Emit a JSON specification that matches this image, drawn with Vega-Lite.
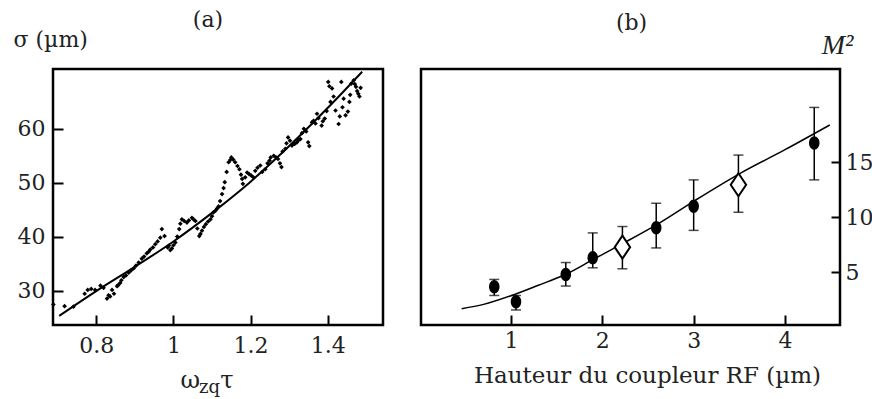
{
  "$schema": "https://vega.github.io/schema/vega-lite/v6.json",
  "padding": {"left": 11, "top": 7, "right": 0, "bottom": 0},
  "spacing": 34,
  "datasets": {
    "scatter": [
      {"x":0.689,"y":27.4},{"x":0.718,"y":27.1},{"x":0.741,"y":27.0},{"x":0.770,"y":29.4},{"x":0.778,"y":30.1},
      {"x":0.787,"y":30.3},{"x":0.797,"y":30.1},{"x":0.811,"y":30.9},{"x":0.819,"y":30.5},{"x":0.828,"y":28.5},
      {"x":0.832,"y":29.1},{"x":0.836,"y":28.9},{"x":0.841,"y":30.1},{"x":0.846,"y":29.4},{"x":0.854,"y":30.8},
      {"x":0.857,"y":31.0},{"x":0.862,"y":31.4},{"x":0.865,"y":31.9},{"x":0.871,"y":32.5},{"x":0.877,"y":32.8},
      {"x":0.884,"y":33.3},{"x":0.890,"y":33.7},{"x":0.897,"y":34.1},{"x":0.903,"y":34.6},{"x":0.910,"y":35.2},
      {"x":0.918,"y":35.9},{"x":0.924,"y":36.3},{"x":0.931,"y":36.9},{"x":0.936,"y":37.2},{"x":0.940,"y":37.6},
      {"x":0.947,"y":38.0},{"x":0.953,"y":38.6},{"x":0.959,"y":39.1},{"x":0.966,"y":39.8},{"x":0.970,"y":41.4},
      {"x":0.977,"y":40.1},{"x":0.985,"y":38.0},{"x":0.988,"y":38.3},{"x":0.992,"y":37.5},{"x":0.996,"y":37.8},
      {"x":1.000,"y":38.4},{"x":1.005,"y":38.9},{"x":1.010,"y":40.0},{"x":1.015,"y":41.4},{"x":1.018,"y":42.4},
      {"x":1.022,"y":43.2},{"x":1.028,"y":42.9},{"x":1.035,"y":42.6},{"x":1.040,"y":43.0},{"x":1.048,"y":43.5},
      {"x":1.052,"y":43.2},{"x":1.057,"y":42.9},{"x":1.062,"y":41.5},{"x":1.067,"y":40.1},{"x":1.070,"y":40.5},
      {"x":1.074,"y":41.1},{"x":1.079,"y":41.8},{"x":1.084,"y":42.3},{"x":1.090,"y":42.8},{"x":1.096,"y":43.2},
      {"x":1.100,"y":43.8},{"x":1.104,"y":44.5},{"x":1.109,"y":44.8},{"x":1.113,"y":45.2},{"x":1.117,"y":45.6},
      {"x":1.121,"y":46.6},{"x":1.126,"y":47.9},{"x":1.130,"y":49.0},{"x":1.133,"y":50.1},{"x":1.138,"y":52.0},
      {"x":1.143,"y":53.8},{"x":1.147,"y":54.2},{"x":1.150,"y":54.7},{"x":1.155,"y":54.3},{"x":1.160,"y":53.8},
      {"x":1.166,"y":53.1},{"x":1.171,"y":52.5},{"x":1.175,"y":51.5},{"x":1.178,"y":50.7},{"x":1.180,"y":49.8},
      {"x":1.186,"y":51.0},{"x":1.191,"y":51.9},{"x":1.196,"y":51.6},{"x":1.202,"y":51.3},{"x":1.207,"y":51.0},
      {"x":1.212,"y":52.2},{"x":1.218,"y":52.8},{"x":1.225,"y":53.2},{"x":1.230,"y":52.0},{"x":1.238,"y":52.5},
      {"x":1.244,"y":53.6},{"x":1.249,"y":54.1},{"x":1.252,"y":54.7},{"x":1.260,"y":55.0},{"x":1.266,"y":54.7},
      {"x":1.271,"y":54.4},{"x":1.276,"y":53.6},{"x":1.280,"y":52.9},{"x":1.283,"y":55.8},{"x":1.290,"y":56.3},
      {"x":1.293,"y":57.3},{"x":1.297,"y":58.4},{"x":1.302,"y":57.8},{"x":1.307,"y":56.9},{"x":1.314,"y":57.2},
      {"x":1.320,"y":57.5},{"x":1.324,"y":57.9},{"x":1.329,"y":58.1},{"x":1.333,"y":59.2},{"x":1.338,"y":60.0},
      {"x":1.344,"y":59.5},{"x":1.349,"y":57.5},{"x":1.352,"y":56.8},{"x":1.359,"y":61.2},{"x":1.363,"y":61.5},
      {"x":1.368,"y":61.0},{"x":1.372,"y":62.8},{"x":1.376,"y":62.0},{"x":1.384,"y":60.6},{"x":1.387,"y":61.4},
      {"x":1.392,"y":61.9},{"x":1.397,"y":63.3},{"x":1.401,"y":68.7},{"x":1.404,"y":67.9},{"x":1.407,"y":65.0},
      {"x":1.411,"y":67.5},{"x":1.415,"y":66.0},{"x":1.420,"y":63.4},{"x":1.428,"y":60.9},{"x":1.431,"y":62.3},
      {"x":1.435,"y":68.7},{"x":1.438,"y":64.0},{"x":1.441,"y":65.6},{"x":1.446,"y":62.5},{"x":1.452,"y":63.2},
      {"x":1.456,"y":65.0},{"x":1.458,"y":66.3},{"x":1.461,"y":68.4},{"x":1.467,"y":69.0},{"x":1.470,"y":68.3},
      {"x":1.473,"y":67.8},{"x":1.476,"y":67.0},{"x":1.479,"y":66.5},{"x":1.482,"y":66.0},{"x":1.485,"y":67.6}
    ],
    "fitA": [
      {"x":0.704,"y":25.3},{"x":0.8,"y":29.9},{"x":0.9,"y":34.4},{"x":1.0,"y":39.1},{"x":1.1,"y":44.4},
      {"x":1.2,"y":50.2},{"x":1.3,"y":56.8},{"x":1.4,"y":63.9},{"x":1.489,"y":70.6}
    ],
    "pointsB": [
      {"x":0.817,"y":3.66,"lo":2.87,"hi":4.33,"kind":"c"},
      {"x":1.055,"y":2.3,"lo":1.55,"hi":2.87,"kind":"c"},
      {"x":1.60,"y":4.78,"lo":3.73,"hi":5.87,"kind":"c"},
      {"x":1.895,"y":6.3,"lo":5.39,"hi":8.57,"kind":"c"},
      {"x":2.22,"y":7.27,"lo":5.3,"hi":9.15,"kind":"d"},
      {"x":2.59,"y":9.03,"lo":7.2,"hi":11.27,"kind":"c"},
      {"x":3.0,"y":11.0,"lo":8.8,"hi":13.4,"kind":"c"},
      {"x":3.49,"y":12.96,"lo":10.45,"hi":15.66,"kind":"d"},
      {"x":4.32,"y":16.75,"lo":13.4,"hi":20.0,"kind":"c"}
    ],
    "fitB": [
      {"x":0.46,"y":1.67},{"x":0.7,"y":2.06},{"x":1.0,"y":2.85},{"x":1.3,"y":3.8},{"x":1.6,"y":4.8},
      {"x":1.9,"y":6.15},{"x":2.2,"y":7.5},{"x":2.6,"y":9.35},{"x":3.0,"y":11.45},{"x":3.5,"y":13.95},
      {"x":4.0,"y":16.15},{"x":4.49,"y":18.4}
    ],
    "one": [{}]
  },
  "hconcat": [
    {
      "width": 330,
      "height": 256,
      "title": {"text": "(a)", "frame": "group", "anchor": "middle", "dx": -10, "offset": -21, "baseline": "alphabetic", "fontSize": 22, "fontWeight": "normal", "font": "DejaVu Serif", "color": "#222"},
      "layer": [
        {
          "data": {"name": "scatter"},
          "mark": {"type": "point", "shape": "diamond", "filled": true, "size": 22, "color": "black", "opacity": 1},
          "encoding": {
            "x": {"field": "x", "type": "quantitative",
              "scale": {"domain": [0.688, 1.543], "nice": false, "zero": false},
              "axis": {"values": [0.8, 1, 1.2, 1.4], "labelExpr": "datum.value", "title": null, "tickSize": -10, "labelPadding": 20}},
            "y": {"field": "y", "type": "quantitative",
              "scale": {"domain": [23.6, 71.1], "nice": false, "zero": false},
              "axis": {"values": [30, 40, 50, 60], "title": "σ (µm)", "titleAngle": 0, "titleAlign": "left", "titleBaseline": "alphabetic", "titleX": -40, "titleY": -23, "tickSize": -10, "labelPadding": 18, "labelBaseline": "middle"}}
          }
        },
        {
          "data": {"name": "fitA"},
          "mark": {"type": "line", "color": "black", "strokeWidth": 2, "interpolate": "monotone"},
          "encoding": {
            "x": {"field": "x", "type": "quantitative"},
            "y": {"field": "y", "type": "quantitative"}
          }
        },
        {
          "data": {"name": "one"},
          "mark": {"type": "text", "text": "ω", "fontSize": 24, "align": "center", "baseline": "alphabetic", "font": "DejaVu Serif", "color": "#222"},
          "encoding": {"x": {"datum": 1.0437, "type": "quantitative"}, "y": {"datum": 11.86, "type": "quantitative"}}
        },
        {
          "data": {"name": "one"},
          "mark": {"type": "text", "text": "zq", "fontSize": 18, "align": "center", "baseline": "alphabetic", "font": "DejaVu Serif", "color": "#222"},
          "encoding": {"x": {"datum": 1.0934, "type": "quantitative"}, "y": {"datum": 10.93, "type": "quantitative"}}
        },
        {
          "data": {"name": "one"},
          "mark": {"type": "text", "text": "τ", "fontSize": 24, "align": "center", "baseline": "alphabetic", "font": "DejaVu Serif", "color": "#222"},
          "encoding": {"x": {"datum": 1.1388, "type": "quantitative"}, "y": {"datum": 11.86, "type": "quantitative"}}
        }
      ]
    },
    {
      "width": 419,
      "height": 256,
      "title": {"text": "(b)", "frame": "group", "anchor": "middle", "dx": 1, "offset": -21, "baseline": "alphabetic", "fontSize": 22, "fontWeight": "normal", "font": "DejaVu Serif", "color": "#222"},
      "layer": [
        {
          "data": {"name": "fitB"},
          "mark": {"type": "line", "color": "black", "strokeWidth": 1.5, "interpolate": "monotone"},
          "encoding": {
            "x": {"field": "x", "type": "quantitative",
              "scale": {"domain": [0.015, 4.602], "nice": false, "zero": false},
              "axis": {"values": [1, 2, 3, 4], "labelExpr": "datum.value", "title": "Hauteur du coupleur RF (µm)", "titleFontSize": 23, "titleX": 226, "titleY": 57.5, "titleAlign": "center", "titleBaseline": "alphabetic", "tickSize": -10, "labelPadding": 15}},
            "y": {"field": "y", "type": "quantitative",
              "scale": {"domain": [0.18, 23.5], "nice": false, "zero": false},
              "axis": {"orient": "right", "values": [5, 10, 15], "title": "M²", "titleAngle": 0, "titleAlign": "center", "titleBaseline": "alphabetic", "titleX": -3, "titleY": -16, "titleFont": "Liberation Serif", "titleFontStyle": "italic", "titleFontSize": 28, "tickSize": -9, "labelPadding": 14, "labelAlign": "left", "labelBaseline": "middle"}}
          }
        },
        {
          "data": {"name": "pointsB"},
          "mark": {"type": "rule", "color": "black", "strokeWidth": 1.5},
          "encoding": {
            "x": {"field": "x", "type": "quantitative"},
            "y": {"field": "lo", "type": "quantitative"},
            "y2": {"field": "hi"}
          }
        },
        {
          "data": {"name": "pointsB"},
          "mark": {"type": "tick", "orient": "horizontal", "size": 10, "thickness": 1.5, "color": "black"},
          "encoding": {
            "x": {"field": "x", "type": "quantitative"},
            "y": {"field": "lo", "type": "quantitative"}
          }
        },
        {
          "data": {"name": "pointsB"},
          "mark": {"type": "tick", "orient": "horizontal", "size": 10, "thickness": 1.5, "color": "black"},
          "encoding": {
            "x": {"field": "x", "type": "quantitative"},
            "y": {"field": "hi", "type": "quantitative"}
          }
        },
        {
          "data": {"name": "pointsB"},
          "transform": [{"filter": "datum.kind === 'c'"}],
          "mark": {"type": "point", "shape": "M-0.78,0A0.78,1,0,1,0,0.78,0A0.78,1,0,1,0,-0.78,0Z", "filled": true, "size": 182, "color": "black", "opacity": 1},
          "encoding": {
            "x": {"field": "x", "type": "quantitative"},
            "y": {"field": "y", "type": "quantitative"}
          }
        },
        {
          "data": {"name": "pointsB"},
          "transform": [{"filter": "datum.kind === 'd'"}],
          "mark": {"type": "point", "shape": "M0,-1L0.67,0L0,1L-0.67,0Z", "filled": false, "fill": "white", "fillOpacity": 1, "stroke": "black", "strokeWidth": 2, "size": 529, "opacity": 1},
          "encoding": {
            "x": {"field": "x", "type": "quantitative"},
            "y": {"field": "y", "type": "quantitative"}
          }
        }
      ]
    }
  ],
  "config": {
    "font": "DejaVu Serif",
    "view": {"stroke": "black", "strokeWidth": 2.5},
    "axis": {
      "domain": false, "grid": false,
      "tickColor": "black", "tickWidth": 2,
      "labelColor": "#222", "labelFontSize": 22, "labelFont": "DejaVu Serif",
      "labelFlush": false, "labelOverlap": false,
      "titleColor": "#222", "titleFontSize": 22, "titleFontWeight": "normal", "titleFont": "DejaVu Serif"
    }
  }
}
